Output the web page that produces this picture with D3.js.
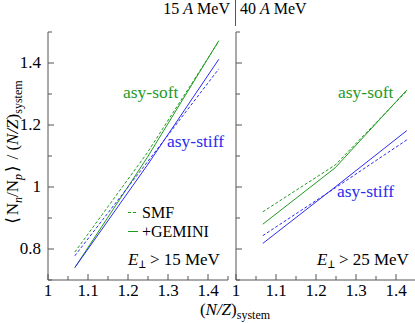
<!DOCTYPE html>
<html><head><meta charset="utf-8">
<script src="https://cdn.jsdelivr.net/npm/d3@7"></script>
<style>svg text, svg tspan { font-family: 'Liberation Serif', 'Tinos', 'Times New Roman', monospace !important; }</style>
</head><body style="margin:0">
<script>
const xs = [1.067, 1.248, 1.427];
const greenDashed15 = [0.79, 1.11, 1.47];
const greenSolid15 = [0.74, 1.095, 1.472];
const blueDashed15 = [0.778, 1.08, 1.381];
const blueSolid15 = [0.74, 1.07, 1.412];
const greenDashed40 = [0.92, 1.071, 1.31];
const greenSolid40 = [0.88, 1.062, 1.313];
const blueDashed40 = [0.843, 0.997, 1.152];
const blueSolid40 = [0.818, 1.0, 1.182];
const xMajor = [1, 1.1, 1.2, 1.3, 1.4];
const xMinor = [1.05, 1.15, 1.25, 1.35, 1.45];
const yMajor = [0.8, 1.0, 1.2, 1.4];
const yMinor = [0.7, 0.9, 1.1, 1.3, 1.5];

const W = 415, H = 323;
const FONT = "Liberation Serif";
const GREEN = "#1f9a1f", BLUE = "#2b2bf0", AX = "#555";
const svg = d3.select("body").append("svg").attr("width", W).attr("height", H)
  .style("display", "block").attr("font-family", FONT);
const txt = (sel, size) => sel.append("text").attr("font-family", FONT).attr("font-size", size);
const y = d3.scaleLinear().domain([0.7, 1.5]).range([280, 32]);
const xL = d3.scaleLinear().domain([1, 1.45]).range([48, 228]);
const xR = d3.scaleLinear().domain([1, 1.45]).range([236, 416]);
const fmt = v => v === 1 ? "1" : d3.format(".1f")(v);

function panel(x, showY, series) {
  const g = svg.append("g");
  g.append("line").attr("x1", x(1)).attr("x2", x(1)).attr("y1", y(0.7)).attr("y2", y(1.5)).attr("stroke", AX);
  g.append("line").attr("x1", x(1)).attr("x2", x(1.45)).attr("y1", y(0.7)).attr("y2", y(0.7)).attr("stroke", AX);
  g.selectAll(".ym").data(yMajor).enter().append("line").attr("x1", x(1)).attr("x2", x(1) + 6)
    .attr("y1", d => y(d)).attr("y2", d => y(d)).attr("stroke", AX);
  g.selectAll(".yn").data(yMinor).enter().append("line").attr("x1", x(1)).attr("x2", x(1) + 4)
    .attr("y1", d => y(d)).attr("y2", d => y(d)).attr("stroke", AX);
  if (showY) {
    g.selectAll(".yl").data(yMajor).enter().append("text").attr("font-family", FONT)
      .attr("x", x(1) - 7).attr("y", d => y(d) + 5)
      .attr("text-anchor", "end").attr("font-size", 17).text(fmt);
  }
  g.selectAll(".xm").data(xMajor).enter().append("line").attr("x1", d => x(d)).attr("x2", d => x(d))
    .attr("y1", y(0.7)).attr("y2", y(0.7) - 6).attr("stroke", AX);
  g.selectAll(".xn").data(xMinor).enter().append("line").attr("x1", d => x(d)).attr("x2", d => x(d))
    .attr("y1", y(0.7)).attr("y2", y(0.7) - 4).attr("stroke", AX);
  g.selectAll(".xl").data(xMajor).enter().append("text").attr("font-family", FONT)
    .attr("x", d => x(d)).attr("y", 296)
    .attr("text-anchor", "middle").attr("font-size", 17).text(fmt);
  const line = d3.line().x((d, i) => x(xs[i])).y(d => y(d));
  series.forEach(s => {
    g.append("path").attr("d", line(s.v)).attr("fill", "none").attr("stroke", s.c)
      .attr("stroke-width", 1).attr("stroke-dasharray", s.dash ? "3,2" : null);
  });
}

panel(xL, true, [
  {v: greenDashed15, c: GREEN, dash: true}, {v: greenSolid15, c: GREEN},
  {v: blueDashed15, c: BLUE, dash: true}, {v: blueSolid15, c: BLUE}]);
panel(xR, false, [
  {v: greenDashed40, c: GREEN, dash: true}, {v: greenSolid40, c: GREEN},
  {v: blueDashed40, c: BLUE, dash: true}, {v: blueSolid40, c: BLUE}]);

svg.append("line").attr("x1", 235.5).attr("x2", 235.5).attr("y1", 0).attr("y2", 26).attr("stroke", AX);
const t1 = txt(svg, 16).attr("x", 230).attr("y", 14).attr("text-anchor", "end");
t1.append("tspan").text("15 "); t1.append("tspan").attr("font-style", "italic").text("A"); t1.append("tspan").text(" MeV");
const t2 = txt(svg, 16).attr("x", 240).attr("y", 14);
t2.append("tspan").text("40 "); t2.append("tspan").attr("font-style", "italic").text("A"); t2.append("tspan").text(" MeV");

function lab(xp, yp, s, col) {
  txt(svg, 17.5).attr("x", xp).attr("y", yp).attr("fill", col).text(s);
}
lab(123, 98, "asy-soft", GREEN);
lab(167, 147, "asy-stiff", BLUE);
lab(338, 98, "asy-soft", GREEN);
lab(337, 197, "asy-stiff", BLUE);

svg.append("line").attr("x1", 128).attr("x2", 138).attr("y1", 212.5).attr("y2", 212.5).attr("stroke", GREEN).attr("stroke-dasharray", "3,2");
svg.append("line").attr("x1", 128).attr("x2", 138).attr("y1", 231.5).attr("y2", 231.5).attr("stroke", GREEN);
txt(svg, 16).attr("x", 142).attr("y", 218).text("SMF");
txt(svg, 16).attr("x", 142).attr("y", 237).text("+GEMINI");

function eperp(xp, val) {
  const t = txt(svg, 17).attr("x", xp).attr("y", 265);
  t.append("tspan").attr("font-style", "italic").text("E");
  t.append("tspan").attr("font-size", 12).attr("dy", 3).text("⊥");
  t.append("tspan").attr("dy", -3).text(" > " + val + " MeV");
}
eperp(128, 15);
eperp(317, 25);

const xt = txt(svg, 17).attr("x", 235).attr("y", 315).attr("text-anchor", "middle");
xt.append("tspan").text("(");
xt.append("tspan").attr("font-style", "italic").text("N/Z");
xt.append("tspan").text(")");
xt.append("tspan").attr("font-size", 12).attr("dy", 4).text("system");

const yt = txt(svg, 17).attr("transform", "translate(18,153) rotate(-90)").attr("text-anchor", "middle");
yt.append("tspan").text("⟨N");
yt.append("tspan").attr("font-style", "italic").attr("font-size", 12).attr("dy", 4).text("n");
yt.append("tspan").attr("dy", -4).text("/N");
yt.append("tspan").attr("font-style", "italic").attr("font-size", 12).attr("dy", 4).text("p");
yt.append("tspan").attr("dy", -4).text("⟩ / (");
yt.append("tspan").attr("font-style", "italic").text("N/Z");
yt.append("tspan").text(")");
yt.append("tspan").attr("font-size", 12).attr("dy", 4).text("system");
</script></body></html>
